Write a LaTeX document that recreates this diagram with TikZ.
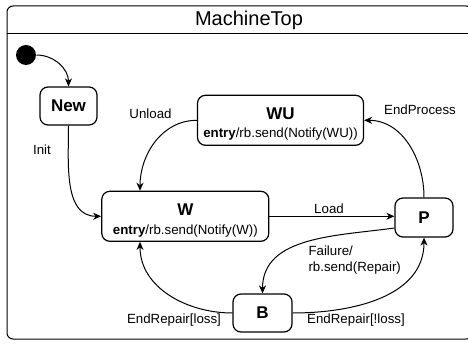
\documentclass[tikz,border=0pt]{standalone}
\usepackage{fontspec}
\setmainfont{Liberation Sans}
\usetikzlibrary{arrows.meta}

\newcommand{\statename}[1]{{\fontsize{17}{20}\selectfont\bfseries #1}}

\begin{document}
\begin{tikzpicture}[x=1pt, y=-1pt, line width=1pt,
        state_style/.style={draw, rounded corners=8pt, line width=1.2pt, inner sep=0pt, align=center, font=\fontsize{13.3}{20}\selectfont},
        name_style/.style={inner sep=0pt, anchor=base, font=\fontsize{17}{20}\selectfont\bfseries},
        entry_style/.style={inner sep=0pt, anchor=base, font=\fontsize{13.3}{16}\selectfont},
        init_style/.style={circle, fill=black, inner sep=0pt, minimum size=20pt},
        edge_style/.style={draw=black, line width=1pt, -{Stealth[length=8pt, width=7pt, inset=2.5pt]}},
        label_style/.style={inner sep=0pt, font=\fontsize{13.3}{16}\selectfont}]

        \useasboundingbox (0,0) rectangle (468,347);

        % container
        \draw [rounded corners=6pt] (7,339) -- (7,6) -- (472,6) -- (472,339) -- cycle;
        \draw (7,34) -- (472,34);
        \node [label_style, font=\fontsize{20}{24}\selectfont] (title) at (249,20) {MachineTop};

        \node [init_style] (n0) at (26,55) {};

        \node [state_style, minimum width=57pt, minimum height=38pt] (new) at (68.5,106) {\statename{New}};

        \node [state_style, minimum width=166pt, minimum height=50pt] (wu) at (280.5,120.3) {};
        \node [name_style] (wu_name) at ([yshift=1pt]wu.center) {WU};
        \node [entry_style] (wu_entry) at ([yshift=-17.5pt]wu.center) {\textbf{entry}/rb.send(Notify(WU))};

        \node [state_style, minimum width=167pt, minimum height=50pt] (w) at (185.3,216.3) {};
        \node [name_style] (w_name) at ([yshift=1pt]w.center) {W};
        \node [entry_style] (w_entry) at ([yshift=-18pt]w.center) {\textbf{entry}/rb.send(Notify(W))};

        \node [state_style, minimum width=58pt, minimum height=39pt] (p) at (424,217.5) {\statename{P}};

        \node [state_style, minimum width=59pt, minimum height=38pt] (b) at (262.5,313) {\statename{B}};

        \draw [edge_style] (n0.east) to[out=0, in=90] (new.north);

        \draw [edge_style] (new.south) to[out=-90, in=180] (w.west);

        \draw [edge_style] (wu.west) to[out=180, in=90] ([xshift=-45.3pt]w.north);

        \draw [edge_style] (w.east) -- (w.east -| p.west);

        \draw [edge_style] (p.north) to[out=90, in=0] (wu.east);

        \draw [edge_style] ([yshift=-10.5pt]p.west) to[out=188, in=90] (b.north);

        \draw [edge_style] (b.west) to[out=180, in=-90] ([xshift=-45.3pt]w.south);

        \draw [edge_style] (b.east) to[out=0, in=-90] (p.south);

        % labels
        \node [label_style] (l_init) at (42,150) {Init};
        \node [label_style] (l_unload) at (150.5,114) {Unload};
        \node [label_style] (l_load) at (329,209) {Load};
        \node [label_style] (l_endprocess) at (420,110) {EndProcess};
        \node [label_style, align=left, anchor=west] (l_failure) at (308,260) {Failure/\\rb.send(Repair)};
        \node [label_style] (l_loss) at (174,320) {EndRepair[loss]};
        \node [label_style] (l_notloss) at (356,320) {EndRepair[!loss]};

\end{tikzpicture}
\end{document}
